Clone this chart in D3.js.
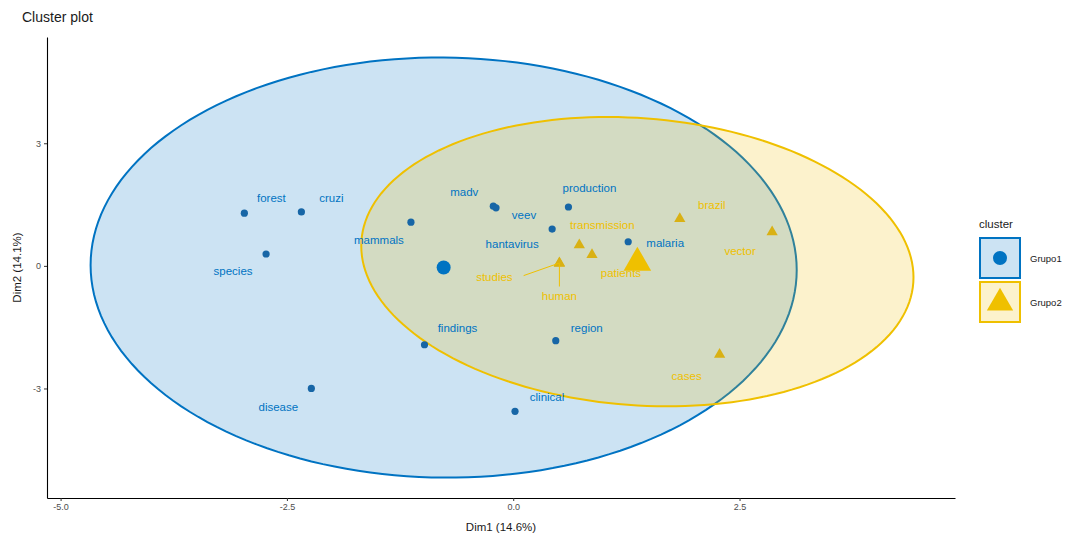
<!DOCTYPE html>
<html>
<head>
<meta charset="utf-8">
<script src="https://cdn.jsdelivr.net/npm/d3@7"></script>
<style>
  html, body { margin: 0; padding: 0; background: #ffffff; }
  svg { display: block; font-family: "Liberation Sans", Arial, sans-serif; }
</style>
</head>
<body>
<svg id="chart" width="1075" height="539"></svg>
<script>
// Cluster members: term, Dim1, Dim2
const grupo1Terms = ["forest", "cruzi", "species", "mammals", "madv", "veev", "production",
                     "hantavirus", "malaria", "region", "findings", "disease", "clinical"];
const grupo1Dim1  = [-2.97, -2.34, -2.73, -1.13, -0.22, -0.19, 0.61, 0.43, 1.27, 0.47, -0.98, -2.23, 0.02];
const grupo1Dim2  = [1.29, 1.32, 0.29, 1.07, 1.46, 1.42, 1.44, 0.90, 0.59, -1.83, -1.93, -3.00, -3.56];

const grupo2Terms = ["brazil", "vector", "transmission", "patients", "studies", "human", "cases"];
const grupo2Dim1  = [1.84, 2.86, 0.73, 0.87, 0.51, 0.51, 2.28];
const grupo2Dim2  = [1.15, 0.83, 0.51, 0.27, 0.07, 0.06, -2.17];

// Concentration ellipse of each cluster (spread along Dim1, Dim2 and their covariance)
const clusterNames  = ["Grupo1", "Grupo2"];
const ellipseSdDim1 = [3.90, 3.05];
const ellipseSdDim2 = [5.14, 3.54];
const ellipseCov    = [-0.23, -1.17];

// Axis ticks
const dim1Ticks = [-5, -2.5, 0, 2.5];
const dim2Ticks = [-3, 0, 3];

// ---------- layout ----------
const svg = d3.select("#chart");
const panel = { left: 47, right: 955, top: 37, bottom: 498 };
const colors = ["#0073C2", "#EFC000"];
const pointColors = ["#1766a6", "#D9B114"];

const x = d3.scaleLinear().domain([-5.15, 4.88]).range([panel.left, panel.right]);
const y = d3.scaleLinear().domain([-5.68, 5.60]).range([panel.bottom, panel.top]);

const groups = [
  { terms: grupo1Terms, d1: grupo1Dim1, d2: grupo1Dim2 },
  { terms: grupo2Terms, d1: grupo2Dim1, d2: grupo2Dim2 }
].map((g, i) => ({
  name: clusterNames[i],
  color: colors[i],
  pointColor: pointColors[i],
  points: g.terms.map((t, j) => ({ term: t, d1: g.d1[j], d2: g.d2[j] })),
  center: [d3.mean(g.d1), d3.mean(g.d2)],
  sd1: ellipseSdDim1[i], sd2: ellipseSdDim2[i], cov: ellipseCov[i]
}));

// Ellipse outline from the covariance matrix (Cholesky factor applied to a unit circle)
function ellipsePoints(g) {
  const a = g.sd1 * g.sd1, b = g.sd2 * g.sd2, c = g.cov;
  const l11 = Math.sqrt(a), l21 = c / l11, l22 = Math.sqrt(b - l21 * l21);
  return d3.range(0, 361, 2).map(deg => {
    const t = deg * Math.PI / 180;
    return [g.center[0] + l11 * Math.cos(t), g.center[1] + l21 * Math.cos(t) + l22 * Math.sin(t)];
  });
}
const line = d3.line().x(d => x(d[0])).y(d => y(d[1])).curve(d3.curveLinearClosed);

svg.append("g").attr("class", "ellipses")
  .selectAll("path").data(groups).join("path")
  .attr("d", g => line(ellipsePoints(g)))
  .attr("fill", g => g.color).attr("fill-opacity", 0.2)
  .attr("stroke", g => g.color).attr("stroke-width", 2);

// Label placement relative to each point (pixels)
const labelNudge = {
  forest: [27, -15], cruzi: [30, -14], species: [-33, 17], mammals: [-32, 18],
  madv: [-29, -14], veev: [28, 7], production: [21, -19], hantavirus: [-40, 15],
  malaria: [37, 1], region: [31, -13], findings: [33, -17], disease: [-33, 19],
  clinical: [32, -14],
  brazil: [32, -14], vector: [-32, 19], transmission: [23, -20], patients: [29, 18],
  studies: [-65, 14], human: [0, 33], cases: [-33, 21]
};
const withSegment = new Set(["studies", "human"]);

// Points
const triangle = d3.symbol().type(d3.symbolTriangle);
groups.forEach((g, i) => {
  const layer = svg.append("g").attr("class", "points-" + g.name);
  if (i === 0) {
    layer.selectAll("circle").data(g.points).join("circle")
      .attr("cx", d => x(d.d1)).attr("cy", d => y(d.d2)).attr("r", 3.6)
      .attr("fill", g.pointColor);
  } else {
    layer.selectAll("path").data(g.points).join("path")
      .attr("transform", d => `translate(${x(d.d1)},${y(d.d2)})`)
      .attr("d", triangle.size(55)())
      .attr("fill", g.pointColor);
  }
});

// Label connectors
groups.forEach(g => {
  svg.append("g").selectAll("line")
    .data(g.points.filter(d => withSegment.has(d.term))).join("line")
    .attr("x1", d => x(d.d1)).attr("y1", d => y(d.d2))
    .attr("x2", d => x(d.d1) + labelNudge[d.term][0] * (d.term === "studies" ? 0.55 : 1))
    .attr("y2", d => y(d.d2) + labelNudge[d.term][1] * (d.term === "human" ? 0.7 : 0.9))
    .attr("stroke", g.color).attr("stroke-width", 1);
});

// Labels
groups.forEach(g => {
  svg.append("g").selectAll("text").data(g.points).join("text")
    .attr("x", d => x(d.d1) + labelNudge[d.term][0])
    .attr("y", d => y(d.d2) + labelNudge[d.term][1])
    .attr("text-anchor", "middle").attr("dominant-baseline", "central")
    .attr("font-size", 11.5)
    .attr("fill", g.color)
    .text(d => d.term);
});

// Cluster centres
svg.append("circle")
  .attr("cx", x(groups[0].center[0])).attr("cy", y(groups[0].center[1]))
  .attr("r", 7).attr("fill", colors[0]);
svg.append("path")
  .attr("transform", `translate(${x(groups[1].center[0])},${y(groups[1].center[1]) + 1})`)
  .attr("d", triangle.size(330)())
  .attr("fill", colors[1]);

// ---------- axes ----------
const fmt1 = v => d3.format(".1f")(v).replace("\u2212", "-");
const fmt0 = v => d3.format("d")(v).replace("\u2212", "-");

const xAxis = svg.append("g").attr("transform", `translate(0,${panel.bottom})`)
  .call(d3.axisBottom(x).tickValues(dim1Ticks).tickFormat(fmt1).tickSize(3).tickPadding(3).tickSizeOuter(0));
const yAxis = svg.append("g").attr("transform", `translate(${panel.left},0)`)
  .call(d3.axisLeft(y).tickValues(dim2Ticks).tickFormat(fmt0).tickSize(3).tickPadding(3).tickSizeOuter(0));

[xAxis, yAxis].forEach(ax => {
  ax.select(".domain").attr("stroke", "#000").attr("stroke-width", 1.1);
  ax.selectAll(".tick line").attr("stroke", "#333");
  ax.selectAll(".tick text").attr("fill", "#4d4d4d").attr("font-size", 9)
    .attr("font-family", "Liberation Sans, Arial, sans-serif");
});

svg.append("text")
  .attr("x", (panel.left + panel.right) / 2).attr("y", 531)
  .attr("text-anchor", "middle").attr("font-size", 11.5).attr("fill", "#1a1a1a")
  .text("Dim1 (14.6%)");
svg.append("text")
  .attr("transform", `translate(21,${(panel.top + panel.bottom) / 2}) rotate(-90)`)
  .attr("text-anchor", "middle").attr("font-size", 11.5).attr("fill", "#1a1a1a")
  .text("Dim2 (14.1%)");

svg.append("text")
  .attr("x", 22).attr("y", 22)
  .attr("font-size", 14).attr("fill", "#1a1a1a")
  .text("Cluster plot");

// ---------- legend ----------
const legend = svg.append("g").attr("transform", "translate(979,0)");
legend.append("text").attr("x", 0).attr("y", 228)
  .attr("font-size", 11.5).attr("fill", "#1a1a1a").text("cluster");

const keyY = [237, 281];
clusterNames.forEach((name, i) => {
  const k = legend.append("g").attr("transform", `translate(0,${keyY[i]})`);
  k.append("rect").attr("x", 1).attr("y", 1).attr("width", 40).attr("height", 40)
    .attr("fill", colors[i]).attr("fill-opacity", 0.2)
    .attr("stroke", colors[i]).attr("stroke-width", 2);
  if (i === 0) {
    k.append("circle").attr("cx", 21).attr("cy", 21).attr("r", 7).attr("fill", colors[0]);
  } else {
    k.append("path").attr("transform", "translate(21,22)")
      .attr("d", triangle.size(300)()).attr("fill", colors[1]);
  }
  k.append("text").attr("x", 51).attr("y", 21).attr("dominant-baseline", "central")
    .attr("font-size", 9.5).attr("fill", "#1a1a1a").text(name);
});
</script>
</body>
</html>
